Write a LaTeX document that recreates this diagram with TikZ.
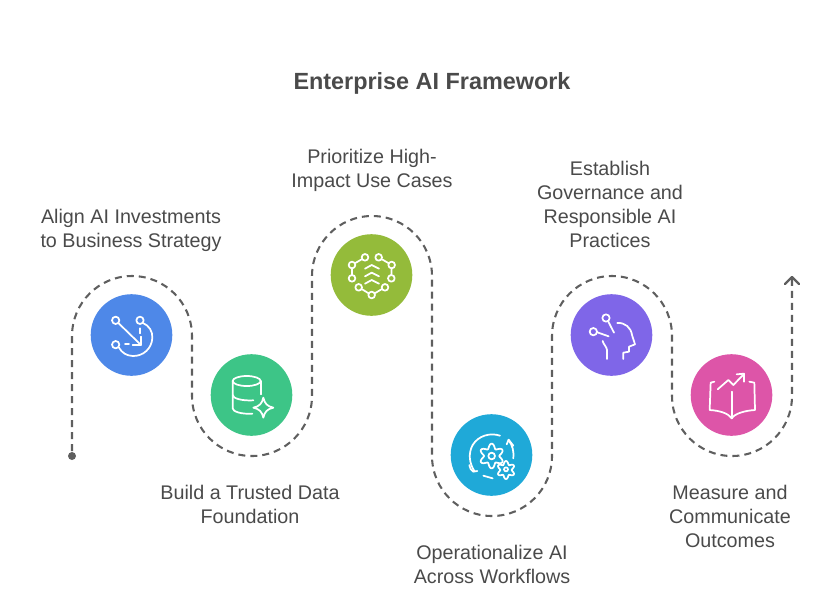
\documentclass[tikz,border=0pt]{standalone}
\usepackage{fontspec}
\setmainfont{Liberation Sans}
\usetikzlibrary{arrows.meta}
\definecolor{txt}{HTML}{4A4A4A}
\definecolor{pathc}{HTML}{5F5F5F}
\definecolor{cblue}{HTML}{4E88E8}
\definecolor{cgreen}{HTML}{3DC587}
\definecolor{colive}{HTML}{94BB3A}
\definecolor{ccyan}{HTML}{1FA9D8}
\definecolor{cpurple}{HTML}{7F66E8}
\definecolor{cpink}{HTML}{DD55A8}
\tikzset{
  disc/.style={circle,minimum size=61.2pt,inner sep=0pt,fill=#1},
  lbl/.style={align=center,text=txt,font=\fontsize{14.8}{18}\selectfont,inner sep=0pt},
  ttl/.style={text=txt,font=\fontsize{17.55}{22}\selectfont\bfseries,inner sep=0pt},
  route/.style={draw=pathc,line width=1.55pt,dash pattern=on 5.25pt off 3.75pt,dash phase=5.25pt},
  ico/.style={draw=white,line width=1.3pt,line cap=round,line join=round},
}
\begin{document}
\begin{tikzpicture}[x=0.75pt,y=-0.75pt]
\useasboundingbox (0,0) rectangle (823,593);
\node[ttl] (title) at (432,83) {Enterprise AI Framework};

\coordinate (start) at (72,456);
\coordinate (finish) at (792,277);
\fill[pathc] (start) circle[radius=4];
\draw[route] (start) -- (72,336)
  arc[start angle=180,end angle=360,radius=60] -- (192,396)
  arc[start angle=180,end angle=0,radius=60] -- (312,276)
  arc[start angle=180,end angle=360,radius=60] -- (432,456)
  arc[start angle=180,end angle=0,radius=60] -- (552,336)
  arc[start angle=180,end angle=360,radius=60] -- (672,396)
  arc[start angle=180,end angle=0,radius=60] -- (finish);
\draw[draw=pathc,line width=1.7pt,line cap=round,line join=round] (785,284) -- (finish) -- (799,284);

\node[disc=cblue] (d1) at (131.5,335) {};
\node[disc=cgreen] (d2) at (251.5,395) {};
\node[disc=colive] (d3) at (371.5,275) {};
\node[disc=ccyan] (d4) at (491.5,455) {};
\node[disc=cpurple] (d5) at (611.5,335) {};
\node[disc=cpink] (d6) at (731.5,395) {};

\node[lbl] (t1) at (131,230.5) {Align AI Investments\\to Business Strategy};
\node[lbl] (t2) at (250,504) {Build a Trusted Data\\Foundation};
\node[lbl] (t3) at (372,170.5) {Prioritize High-\\Impact Use Cases};
\node[lbl] (t4) at (492,564) {Operationalize AI\\Across Workflows};
\node[lbl] (t5) at (610,204) {Establish\\Governance and\\Responsible AI\\Practices};
\node[lbl] (t6) at (730,516) {Measure and\\Communicate\\Outcomes};

% icon 1
\begin{scope}[shift={(80,285)},x=0.25pt,y=-0.25pt,ico]
\draw (107,106) circle[radius=11];
\draw (180,106) circle[radius=11];
\draw (107,179) circle[radius=11];
\draw (115,114) -- (183,180);
\draw (183,155) -- (183,180) -- (158,180);
\draw (135,178) -- (147,178);
\draw (180,130) -- (180,145);
\draw (189,114) .. controls (208,122) and (218,140) .. (217,158) .. controls (216,190) and (190,214) .. (158,213) .. controls (140,212) and (126,204) .. (117,188);
\end{scope}

% icon 2
\begin{scope}[shift={(200,345)},x=0.25pt,y=-0.25pt,ico]
\draw (140,108) ellipse[x radius=42,y radius=15];
\draw (98,108) -- (98,190) .. controls (98,200) and (125,208) .. (157,206);
\draw (182,108) -- (182,148);
\draw (98,150) .. controls (98,160) and (125,168) .. (160,166);
\draw (190,158) .. controls (194,176) and (202,184) .. (220,188) .. controls (202,192) and (194,200) .. (190,218) .. controls (186,200) and (178,192) .. (160,188) .. controls (178,184) and (186,176) .. (190,158) -- cycle;
\end{scope}

% icon 3
\begin{scope}[shift={(320,225)},x=0.25pt,y=-0.25pt,ico]
\draw (125,103) -- (106,114);
\draw (96,130) -- (96,150);
\draw (186,103) -- (205,114);
\draw (215,130) -- (214,150);
\draw (125,192) -- (146,205);
\draw (164,205) -- (186,192);
\foreach \p in {(135,97),(176,97),(96,120),(215,120),(96,160),(214,160),(116,187),(195,187),(155,210)}
  \draw \p circle[radius=10];
\foreach \q in {131,154,176}
  \draw (135,\q) -- (155,\q-11) -- (177,\q);
\end{scope}

% icon 4
\begin{scope}[shift={(440,405)},x=0.25pt,y=-0.25pt,ico]
\draw plot[domain=0:360,samples=145,smooth] ({155+(30-7*cos(6*\x))*cos(\x)},{153+(30-7*cos(6*\x))*sin(\x)}) -- cycle;
\draw (155,153) circle[radius=10];
\draw plot[domain=0:360,samples=145,smooth] ({198+(22-5*cos(6*\x))*cos(\x)},{195+(22-5*cos(6*\x))*sin(\x)}) -- cycle;
\draw (198,193) circle[radius=6];
\draw (180,92) .. controls (150,82) and (115,92) .. (98,120) .. controls (84,145) and (88,175) .. (103,198);
\draw (88,180) .. controls (90,190) and (92,195) .. (100,200) -- (112,198);
\draw (220,160) .. controls (222,140) and (218,120) .. (205,105);
\draw (200,118) -- (206,104) -- (220,122);
\draw (130,212) -- (158,220);
\end{scope}

% icon 5
\begin{scope}[shift={(560,285)},x=0.25pt,y=-0.25pt,ico]
\draw (138,99) circle[radius=11];
\draw (100,140) circle[radius=11];
\draw (145,110) -- (162,143);
\draw (112,142) -- (146,154);
\draw (172,114) .. controls (195,112) and (213,128) .. (216,150) -- (225,178) -- (207,185) -- (207,200) -- (190,203) -- (190,222);
\draw (128,168) .. controls (130,178) and (140,185) .. (141,195) -- (141,222);
\end{scope}

% icon 6
\begin{scope}[shift={(680,270)},x=0.25pt,y=-0.25pt,ico]
\draw (103,335) -- (92,338) -- (89,420) .. controls (120,422) and (145,430) .. (155,445) .. controls (165,430) and (195,422) .. (225,420) -- (223,338) -- (208,335);
\draw (155,365) -- (155,445);
\draw (113,358) -- (145,330) -- (160,345) -- (191,313);
\draw (170,313) -- (192,311) -- (192,335);
\end{scope}
\end{tikzpicture}
\end{document}
